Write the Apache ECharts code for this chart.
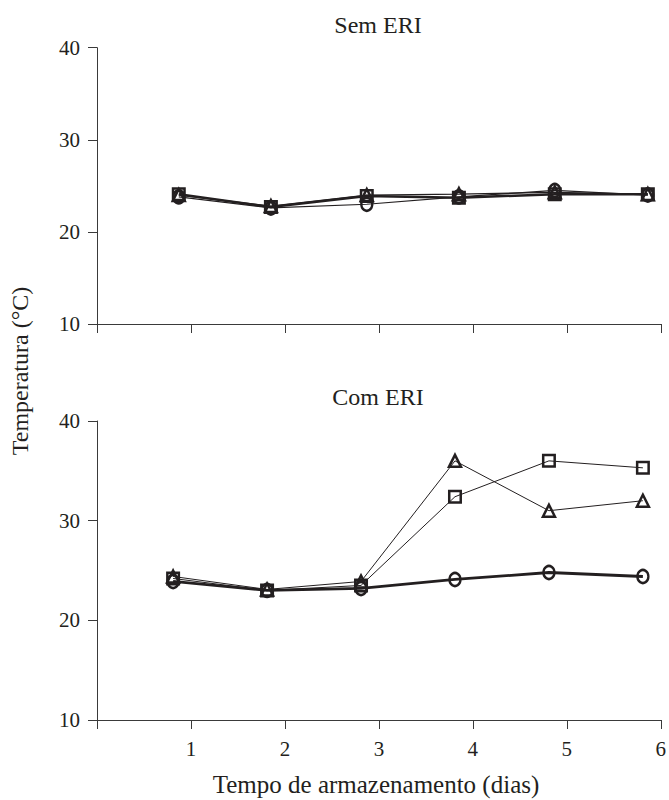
<!DOCTYPE html>
<html><head><meta charset="utf-8">
<script src="https://cdn.jsdelivr.net/npm/echarts@6/dist/echarts.min.js"></script>
<style>html,body{margin:0;padding:0;background:#fff}#c{width:669px;height:800px}</style>
</head><body><div id="c"></div>
<script>
// ---- data ----
const xMin = 0, xMax = 6, xStep = 1;
const yMin = 10, yMax = 40, yStep = 10;
const panelTitles = ['Sem ERI', 'Com ERI'];
const xAxisTitle = 'Tempo de armazenamento (dias)';
const yAxisTitle = 'Temperatura (°C)';
const daysTop = [0.87, 1.85, 2.87, 3.85, 4.87, 5.86];
const daysBottom = [0.81, 1.81, 2.81, 3.81, 4.81, 5.81];
const semCircle = [23.8, 22.6, 23.0, 23.8, 24.5, 24.0];
const semSquare = [24.1, 22.7, 23.9, 23.7, 24.1, 24.1];
const semTriangle = [24.0, 22.8, 24.0, 24.1, 24.3, 24.1];
const comCircle = [23.9, 23.0, 23.2, 24.1, 24.8, 24.4];
const comSquare = [24.2, 23.0, 23.5, 32.4, 36.0, 35.3];
const comTriangle = [24.4, 23.1, 23.9, 36.0, 31.0, 32.0];

// ---- chart ----
const INK = '#231f20';
const AX = '#3a3a3a';
const FONT = 'Liberation Serif';
const pairs = (xs, ys) => xs.map((x, i) => [x, ys[i]]);

function xAxisCfg(idx, showLabels) {
  return {
    type: 'value', gridIndex: idx, min: xMin, max: xMax, interval: xStep,
    axisLine: { show: true, onZero: false, lineStyle: { color: AX, width: 1 } },
    axisTick: { show: true, length: 9, inside: false, lineStyle: { color: AX, width: 1 } },
    axisLabel: {
      show: showLabels, margin: 18, fontFamily: FONT, fontSize: 21, color: INK,
      formatter: v => (v === xMin ? '' : String(v))
    },
    splitLine: { show: false }
  };
}
function yAxisCfg(idx) {
  return {
    type: 'value', gridIndex: idx, min: yMin, max: yMax, interval: yStep,
    axisLine: { show: true, onZero: false, lineStyle: { color: AX, width: 1 } },
    axisTick: { show: true, length: 9, lineStyle: { color: AX, width: 1 } },
    axisLabel: { margin: 17, fontFamily: FONT, fontSize: 21, color: INK },
    splitLine: { show: false }
  };
}
function series(idx, name, xs, ys, symbol, size, lw) {
  return {
    type: 'line', name, xAxisIndex: idx, yAxisIndex: idx,
    data: pairs(xs, ys), symbol, symbolSize: size, showAllSymbol: true,
    lineStyle: { color: INK, width: lw },
    itemStyle: { color: 'rgba(255,255,255,0)', borderColor: INK, borderWidth: 2.5 },
    emphasis: { disabled: true }, z: 3
  };
}

const chart = echarts.init(document.getElementById('c'), null, { renderer: 'svg' });
chart.setOption({
  animation: false,
  backgroundColor: '#fff',
  grid: [
    { left: 97, top: 47.7, width: 564, height: 276.3 },
    { left: 97, top: 421, width: 564, height: 299 }
  ],
  xAxis: [xAxisCfg(0, false), xAxisCfg(1, true)],
  yAxis: [yAxisCfg(0), yAxisCfg(1)],
  graphic: [
    { type: 'text', x: 378, y: 25, style: { text: panelTitles[0], fontFamily: FONT, fontSize: 24, fill: INK, align: 'center', verticalAlign: 'middle' } },
    { type: 'text', x: 378, y: 397, style: { text: panelTitles[1], fontFamily: FONT, fontSize: 24, fill: INK, align: 'center', verticalAlign: 'middle' } },
    { type: 'text', x: 376, y: 784, style: { text: xAxisTitle, fontFamily: FONT, fontSize: 25, fill: INK, align: 'center', verticalAlign: 'middle' } },
    { type: 'text', x: 20, y: 371, rotation: Math.PI / 2, style: { text: yAxisTitle, fontFamily: FONT, fontSize: 24, fill: INK, align: 'center', verticalAlign: 'middle' } }
  ],
  series: [
    series(0, 'Sem – círculo', daysTop, semCircle, 'circle', [11, 13], 1.2),
    series(0, 'Sem – triângulo', daysTop, semTriangle, 'triangle', 12, 1.2),
    series(0, 'Sem – quadrado', daysTop, semSquare, 'rect', 11.5, 2.5),
    series(1, 'Com – círculo', daysBottom, comCircle, 'circle', [11, 13], 2.8),
    series(1, 'Com – triângulo', daysBottom, comTriangle, 'triangle', 12, 1),
    series(1, 'Com – quadrado', daysBottom, comSquare, 'rect', 11.5, 1)
  ]
});
</script>
</body></html>
